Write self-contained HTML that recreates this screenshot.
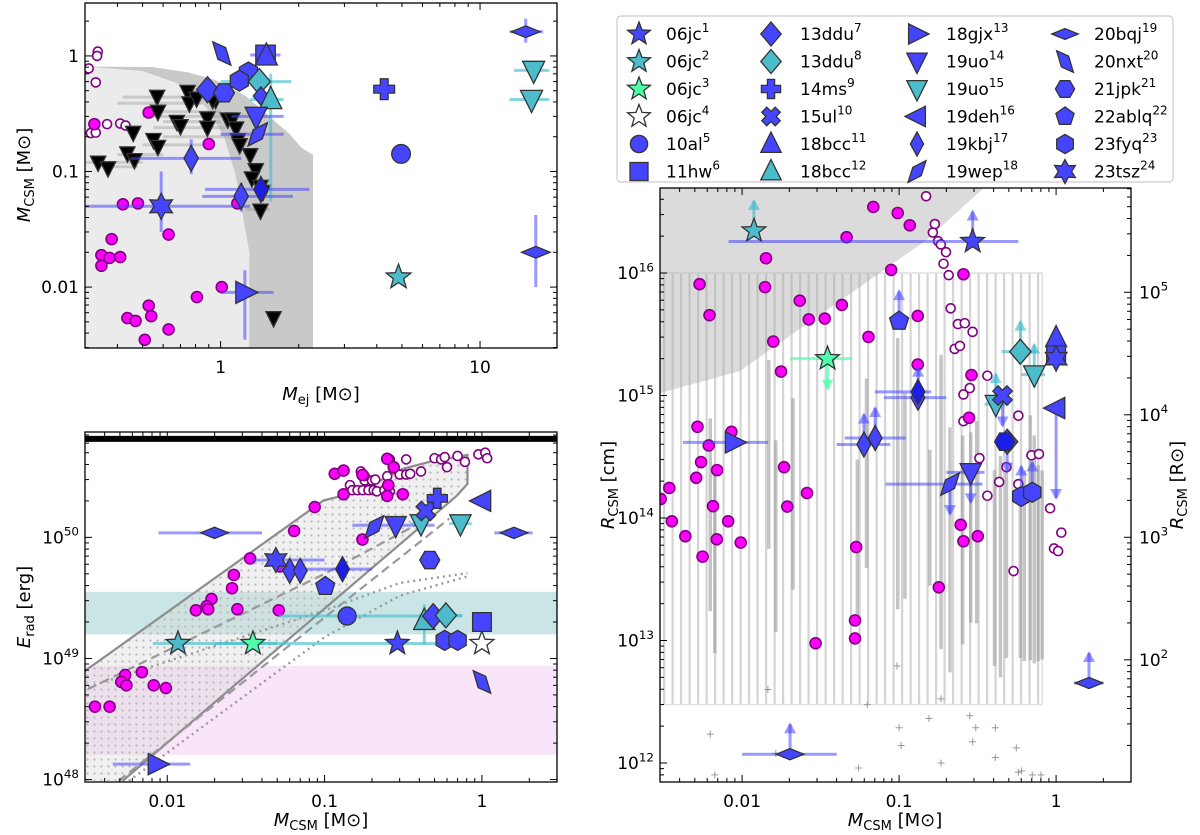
<!DOCTYPE html>
<html><head><meta charset="utf-8"><title>CSM parameter comparison</title>
<style>
html,body{margin:0;padding:0;background:#fff;}
svg{display:block;font-family:"DejaVu Sans","Liberation Sans",sans-serif;}
</style></head>
<body>
<svg id="chart" width="1200" height="835" viewBox="0 0 1200 835" xmlns="http://www.w3.org/2000/svg">
<defs>
<clipPath id="c1"><rect x="85" y="3" width="472" height="345"/></clipPath>
<clipPath id="c2"><rect x="85" y="432" width="472" height="350"/></clipPath>
<clipPath id="c3"><rect x="660" y="188" width="471" height="594"/></clipPath>
<pattern id="dots" width="7" height="7" patternUnits="userSpaceOnUse"><circle cx="3.5" cy="3.5" r="1.1" fill="#b8b8b8"/></pattern>
<pattern id="stripes" width="8.5" height="10" patternUnits="userSpaceOnUse"><rect x="0" y="0" width="2.2" height="10" fill="#d4d4d4"/></pattern>
</defs>
</svg>
<script>
// ---------- DATA: top-left (Mej vs Mcsm) ----------
const p1MagX=[0.528,0.326,0.90,0.42,0.48,0.38,0.347,0.373,0.41,0.347,0.63,1.16,1.01,0.81,0.528,0.437,0.47,0.54,0.63,0.51];
const p1MagY=[0.324,0.257,0.173,0.052,0.053,0.026,0.0189,0.0179,0.0182,0.0153,0.0285,0.053,0.010,0.0082,0.0069,0.0054,0.0051,0.0056,0.0043,0.0035];
const p1OpenX=[0.336,0.334,0.31,0.33,0.365,0.41,0.43,0.316,0.33];
const p1OpenY=[1.09,1.0,0.78,0.59,0.257,0.26,0.25,0.215,0.217];
const p1TriX=[0.569,0.573,0.46,0.551,0.573,0.437,0.465,0.337,0.368,0.678,0.70,0.746,0.758,0.808,0.889,0.889,0.956,1.066,1.11,1.147,1.165,1.184,1.30,1.366,1.32,1.424,1.424,1.60,1.456,0.932];
const p1TriY=[0.445,0.33,0.217,0.188,0.164,0.144,0.126,0.12,0.107,0.27,0.248,0.49,0.39,0.43,0.289,0.24,0.417,0.283,0.283,0.237,0.188,0.17,0.139,0.103,0.0875,0.074,0.046,0.0054,0.067,0.417];
const p1Named=[
 {n:'20nxt',t:'nxt',c:'B',x:1.01,y:1.05},
 {n:'11hw',t:'sq',c:'B',x:1.49,y:1.02,xe:[1.3,1.7]},
 {n:'18bcc',t:'tu',c:'B',x:1.5,y:1.0},
 {n:'23fyq',t:'hexv',c:'B',x:1.28,y:0.72},
 {n:'23fyq',t:'hexv',c:'B',x:1.18,y:0.61},
 {n:'13ddu',t:'D',c:'C',x:1.41,y:0.6,xe:[1.0,1.87]},
 {n:'13ddu',t:'D',c:'B',x:0.89,y:0.51},
 {n:'21jpk',t:'hexh',c:'B',x:1.03,y:0.48},
 {n:'13ddu',t:'D',c:'B',x:1.43,y:0.45,s:0.7},
 {n:'18bcc',t:'tu',c:'C',x:1.56,y:0.42,xe:[1.3,1.75],ye:[0.055,0.7]},
 {n:'19uo',t:'td',c:'B',x:1.37,y:0.3,xe:[1.1,1.75]},
 {n:'19wep',t:'wep',c:'B',x:1.39,y:0.21,xe:[1.0,1.75]},
 {n:'19kbj',t:'d',c:'B',x:0.77,y:0.13,xe:[0.45,1.2],ye:[0.095,0.19]},
 {n:'19kbj',t:'d',c:'B',x:1.2,y:0.061,xe:[0.85,1.9],ye:[0.045,0.08]},
 {n:'19kbj',t:'d',c:'D',x:1.43,y:0.07,xe:[0.87,2.2]},
 {n:'23tsz',t:'s6',c:'B',x:0.59,y:0.05,xe:[0.3,1.3],ye:[0.03,0.1]},
 {n:'18gjx',t:'tr',c:'B',x:1.24,y:0.009,xe:[1.0,1.6],ye:[0.0035,0.014]},
 {n:'14ms',t:'plus',c:'B',x:4.27,y:0.515},
 {n:'10al',t:'o',c:'B',x:4.96,y:0.142},
 {n:'06jc2',t:'s5',c:'C',x:4.85,y:0.0122},
 {n:'20bqj',t:'bqj',c:'B',x:15,y:1.62,xe:[13,17.5],ye:[1.3,2.1]},
 {n:'19uo',t:'td',c:'C',x:16.1,y:0.75,xe:[13.5,18.5]},
 {n:'19uo',t:'td',c:'C',x:15.8,y:0.42,xe:[13,18.5]},
 {n:'20bqj',t:'bqj',c:'B',x:16.4,y:0.02,ye:[0.01,0.042]}
];
// ---------- DATA: bottom-left (Mcsm vs Erad) ----------
const p2MagX=[0.116,0.132,0.174,0.132,0.25,0.275,0.0865,0.064,0.174,0.314,0.0336,0.0265,0.0258,0.0191,0.0178,0.0152,0.0182,0.0279,0.0511,0.052,0.0069,0.0054,0.0051,0.0055,0.0082,0.0098,0.00347,0.0043,0.254,0.25];
const p2MagY=[3.35e50,3.56e50,3.28e50,2.27e50,4.45e50,3.8e50,1.78e50,1.13e50,9.6e49,2.27e50,6.7e49,4.9e49,3.8e49,3.1e49,2.7e49,2.5e49,2.55e49,2.55e49,2.5e49,5.75e49,7.7e48,7.3e48,6.4e48,6.0e48,6.0e48,5.7e48,4.0e48,4.0e48,2.7e50,2.2e50];
const p2OpenX=[0.145,0.15,0.162,0.175,0.19,0.205,0.215,0.24,0.26,0.18,0.2,0.18,0.21,0.25,0.3,0.33,0.35,0.41,0.33,0.5,0.55,0.58,0.6,0.7,0.78,0.95,1.05,1.08,0.17,0.26];
const p2OpenY=[2.7e50,2.45e50,2.45e50,2.45e50,2.45e50,2.45e50,2.4e50,2.45e50,2.4e50,2.95e50,2.95e50,3.2e50,3.0e50,3.2e50,3.3e50,3.3e50,3.35e50,3.5e50,4.4e50,4.5e50,4.4e50,4.6e50,3.8e50,4.7e50,4.2e50,4.85e50,5.0e50,4.5e50,3.5e50,4.4e50];
const p2Named=[
 {n:'20bqj',t:'bqj',c:'B',x:0.020,y:1.09e50,xe:[0.0088,0.04]},
 {n:'20bqj',t:'bqj',c:'B',x:1.6,y:1.09e50,xe:[1.2,2.1]},
 {n:'18gjx',t:'tr',c:'B',x:0.0086,y:1.34e48,xe:[0.0045,0.014]},
 {n:'06jc2',t:'s5',c:'C',x:0.0117,y:1.33e49,xe:[0.0081,0.52]},
 {n:'06jc3',t:'s5',c:'M',x:0.035,y:1.33e49,xe:[0.02,0.05],ec:'C'},
 {n:'06jc1',t:'s5',c:'B',x:0.29,y:1.33e49},
 {n:'06jc4',t:'s5',c:'W',x:1.0,y:1.33e49},
 {n:'23fyq',t:'hexv',c:'B',x:0.58,y:1.41e49},
 {n:'23fyq',t:'hexv',c:'B',x:0.70,y:1.41e49},
 {n:'10al',t:'o',c:'B',x:0.139,y:2.24e49,xe:[0.0511,0.75],ec:'C'},
 {n:'18bcc',t:'tu',c:'C',x:0.43,y:2.05e49,ye:[1.3e49,2.8e49]},
 {n:'13ddu',t:'D',c:'B',x:0.49,y:2.24e49},
 {n:'13ddu',t:'D',c:'C',x:0.59,y:2.27e49,xe:[0.4,0.75]},
 {n:'11hw',t:'sq',c:'B',x:1.0,y:2.0e49},
 {n:'20nxt',t:'nxt',c:'B',x:1.0,y:6.4e48},
 {n:'22ablq',t:'pent',c:'B',x:0.101,y:3.94e49},
 {n:'19kbj',t:'d',c:'D',x:0.13,y:5.47e49,xe:[0.05,0.2]},
 {n:'19kbj',t:'d',c:'B',x:0.06,y:5.3e49},
 {n:'19kbj',t:'d',c:'B',x:0.07,y:5.3e49},
 {n:'23tsz',t:'s6',c:'B',x:0.049,y:6.5e49,xe:[0.034,0.1]},
 {n:'21jpk',t:'hexh',c:'B',x:0.466,y:6.5e49},
 {n:'19wep',t:'wep',c:'B',x:0.207,y:1.22e50},
 {n:'19uo',t:'td',c:'B',x:0.283,y:1.26e50,xe:[0.15,0.5]},
 {n:'19uo',t:'td',c:'C',x:0.41,y:1.3e50,xe:[0.35,0.45]},
 {n:'19uo',t:'td',c:'C',x:0.73,y:1.3e50,xe:[0.62,0.86]},
 {n:'15ul',t:'x',c:'B',x:0.44,y:1.65e50},
 {n:'14ms',t:'plus',c:'B',x:0.52,y:2.1e50},
 {n:'19deh',t:'tl',c:'B',x:1.0,y:2.0e50}
];
// model envelope (bottom-left)
const envX=[0.003,0.0985,0.128,0.217,0.314,0.478,0.81,0.81,0.69,0.0052,0.003];
const envY=[7.9e48,2.02e50,2.2e50,2.86e50,3.68e50,4.25e50,4.8e50,2.77e50,2.2e50,9.75e47,9.75e47];
// ---------- DATA: right (Mcsm vs Rcsm) ----------
const p3MagX=[0.0685,0.098,0.117,0.0463,0.0142,0.089,0.257,0.00536,0.014,0.0233,0.0432,0.0266,0.0336,0.1315,0.0062,0.0638,0.0158,0.0177,0.0052,0.00855,0.00613,0.00548,0.00693,0.0051,0.00344,0.00303,0.0185,0.0259,0.00653,0.0194,0.00357,0.00815,0.00435,0.0069,0.0098,0.0056,0.0533,0.247,0.257,0.317,0.179,0.0524,0.0524,0.0294,0.289,0.279,0.1315];
const p3MagY=[3.46e16,3.09e16,2.45e16,1.96e16,1.32e16,1.06e16,9.77e15,8.1e15,7.67e15,5.94e15,5.49e15,4.18e15,4.25e15,4.46e15,4.53e15,3.01e15,2.76e15,1.57e15,5.56e14,5.05e14,3.91e14,2.86e14,2.46e14,2.13e14,1.76e14,1.43e14,2.6e14,1.6e14,1.25e14,1.24e14,9.4e13,9.4e13,7.1e13,6.7e13,6.3e13,4.84e13,5.8e13,8.8e13,6.46e13,7.1e13,2.72e13,1.46e13,1.04e13,9.5e12,1.47e15,6.58e14,1.79e15];
const p3OpenX=[0.1486,0.169,0.164,0.177,0.1845,0.199,0.192,0.207,0.213,0.237,0.262,0.294,0.226,0.244,0.257,0.282,0.365,0.257,0.575,0.325,0.434,0.483,0.575,0.365,0.697,0.778,0.916,1.08,0.97,1.03,0.536];
const p3OpenY=[4.23e16,2.51e16,2.14e16,1.82e16,1.71e16,1.48e16,1.19e16,9.6e15,5.15e15,3.83e15,3.89e15,3.31e15,2.4e15,2.54e15,1.02e15,1.15e15,1.45e15,6.17e14,6.85e14,3.08e14,1.97e14,2.6e14,1.89e14,1.52e14,3.25e14,3.33e14,1.2e14,7.6e13,5.64e13,5.37e13,3.69e13];
const p3PlusX=[0.0146,0.00627,0.0067,0.0627,0.097,0.185,0.155,0.282,0.308,0.41,0.1,0.103,0.294,0.185,0.41,0.558,0.0552,0.603,0.705,0.801,0.0164,0.575];
const p3PlusY=[3.98e12,1.72e12,8.0e11,3.0e12,6.2e12,3.34e12,2.31e12,2.43e12,1.94e12,1.94e12,1.94e12,1.39e12,1.49e12,1.0e12,1.11e12,1.33e12,9.1e11,8.6e11,8.0e11,8.0e11,1.2e12,8.4e11];
const p3BarX=[0.00627,0.0067,0.0148,0.0164,0.0211,0.0542,0.062,0.098,0.109,0.157,0.185,0.211,0.254,0.286,0.312,0.405,0.442,0.483,0.592,0.627,0.685,0.726,0.769,0.815];
const p3BarLo=[1.74e13,7.9e12,5.6e13,1.17e13,2.6e13,1.6e13,3.9e13,1.8e13,2.2e13,2.8e13,8.5e12,5.5e12,9.3e12,1.4e13,1.38e13,6.2e12,5.0e12,7.2e12,7.2e12,6.8e12,6.9e12,6.5e12,6.8e12,7.0e12];
const p3BarHi=[6.5e14,2.75e14,1.95e15,4.3e14,9.5e14,3.0e14,1.38e15,2.95e15,1.05e15,3.6e14,2.15e15,5.5e14,4.7e14,5.0e14,6.2e14,2.45e14,3.2e14,2.7e14,2.1e14,2.45e14,6.9e14,4.7e14,2.7e14,2.45e14];
const p3Named=[
 {n:'06jc1',t:'s5',c:'B',x:0.294,y:1.81e16,xe:[0.0082,0.575],a:'up'},
 {n:'06jc2',t:'s5',c:'C',x:0.0119,y:2.21e16,a:'up'},
 {n:'06jc3',t:'s5',c:'M',x:0.035,y:2.0e15,xe:[0.0202,0.0499],a:'down',ac:'M'},
 {n:'22ablq',t:'pent',c:'B',x:0.1,y:4.05e15,a:'up'},
 {n:'19kbj',t:'d',c:'B',x:0.132,y:9.6e14,xe:[0.08,0.2],a:'up'},
 {n:'19kbj',t:'d',c:'D',x:0.132,y:1.07e15,xe:[0.07,0.16]},
 {n:'19kbj',t:'d',c:'B',x:0.0597,y:3.98e14,xe:[0.04,0.088],a:'up'},
 {n:'19kbj',t:'d',c:'B',x:0.0704,y:4.5e14,xe:[0.045,0.11],a:'up'},
 {n:'18gjx',t:'tr',c:'B',x:0.0089,y:4.14e14,xe:[0.0042,0.0146]},
 {n:'19wep',t:'wep',c:'B',x:0.211,y:1.89e14,xe:[0.082,0.34],a:'down'},
 {n:'19uo',t:'td',c:'B',x:0.286,y:2.36e14,xe:[0.2,0.35],a:'down'},
 {n:'19uo',t:'td',c:'C',x:0.413,y:8.5e14,xe:[0.35,0.5],a:'up'},
 {n:'15ul',t:'x',c:'B',x:0.456,y:1.0e15,a:'down'},
 {n:'13ddu',t:'D',c:'C',x:0.592,y:2.28e15,xe:[0.45,0.75],a:'up'},
 {n:'19uo',t:'td',c:'C',x:0.726,y:1.48e15,xe:[0.6,0.85],a:'up'},
 {n:'13ddu',t:'D',c:'B',x:0.488,y:4.2e14,a:'down'},
 {n:'21jpk',t:'hexh',c:'D',x:0.47,y:4.2e14},
 {n:'23fyq',t:'hexv',c:'B',x:0.6,y:1.5e14,a:'up'},
 {n:'23fyq',t:'hexv',c:'B',x:0.705,y:1.62e14,a:'up'},
 {n:'18bcc',t:'tu',c:'B',x:1.0,y:2.95e15},
 {n:'11hw',t:'sq',c:'B',x:1.0,y:2.13e15},
 {n:'23tsz',t:'s6',c:'B',x:1.0,y:2.0e15},
 {n:'19deh',t:'tl',c:'B',x:1.0,y:7.9e14,a:'down',al:90},
 {n:'20bqj',t:'bqj',c:'B',x:1.62,y:4.5e12,a:'up',xe:[1.3,2.0]},
 {n:'20bqj',t:'bqj',c:'B',x:0.0202,y:1.18e12,xe:[0.01,0.04],a:'up'}
];
const legendNames=['06jc','06jc','06jc','06jc','10al','11hw','13ddu','13ddu','14ms','15ul','18bcc','18bcc','18gjx','19uo','19uo','19deh','19kbj','19wep','20bqj','20nxt','21jpk','22ablq','23fyq','23tsz'];
const legendShapes=['s5','s5','s5','s5','o','sq','D','D','plus','x','tu','tu','tr','td','td','tl','d','wep','bqj','nxt','hexh','pent','hexv','s6'];
const legendColors=['B','C','M','W','B','B','B','C','B','B','B','C','B','B','C','B','B','B','B','B','B','B','B','B'];

// ---------- RENDER ----------
const NS='http://www.w3.org/2000/svg';
const svg=document.getElementById('chart');
const L=Math.log10;
const COL={B:'#4545ff',C:'#4cbccb',M:'#4dffa8',W:'#ffffff',D:'#1d1de8'};
const ECOL={B:'rgba(70,70,255,0.55)',C:'rgba(70,190,205,0.65)',M:'rgba(80,255,170,0.7)',D:'rgba(70,70,255,0.55)',W:'rgba(70,70,255,0.55)'};
function mk(tag,attrs,parent){const e=document.createElementNS(NS,tag);for(const k in attrs)e.setAttribute(k,attrs[k]);(parent||svg).appendChild(e);return e;}
function P(x0,x1,y0,y1,xa,xb,ya,yb){return {x0,x1,y0,y1,xa:L(xa),xb:L(xb),ya:L(ya),yb:L(yb)};}
const P1=P(85,557,3,348,0.30,19.8,Math.pow(10,-2.527),Math.pow(10,0.458));
const P2=P(85,557,432,782,0.003,3.0,Math.pow(10,47.98),Math.pow(10,50.87));
const P3=P(660,1131,188,782,0.003,3.0,Math.pow(10,11.845),Math.pow(10,16.694));
function sx(p,v){return p.x0+(L(v)-p.xa)/(p.xb-p.xa)*(p.x1-p.x0);}
function sy(p,v){return p.y1-(L(v)-p.ya)/(p.yb-p.ya)*(p.y1-p.y0);}

function shapePts(t,r){
  const pts=[];
  const star=(n,ri)=>{for(let i=0;i<2*n;i++){const a=-Math.PI/2+i*Math.PI/n;const rr=i%2?r*ri:r;pts.push([rr*Math.cos(a),rr*Math.sin(a)]);}};
  const reg=(n,off)=>{for(let i=0;i<n;i++){const a=off+i*2*Math.PI/n;pts.push([r*0.8*Math.cos(a),r*0.8*Math.sin(a)]);}};
  if(t==='s5')star(5,0.42);
  else if(t==='s6')star(6,0.55);
  else if(t==='sq'){const s=r*0.75;pts.push([-s,-s],[s,-s],[s,s],[-s,s]);}
  else if(t==='D'){pts.push([0,-r],[r*0.85,0],[0,r],[-r*0.85,0]);}
  else if(t==='d'){pts.push([0,-r],[r*0.55,0],[0,r],[-r*0.55,0]);}
  else if(t==='bqj'){pts.push([0,-r*0.45],[r*1.1,0],[0,r*0.45],[-r*1.1,0]);}
  else if(t==='tu'){pts.push([0,-r],[r*0.85,r*0.7],[-r*0.85,r*0.7]);}
  else if(t==='td'){pts.push([0,r],[r*0.85,-r*0.7],[-r*0.85,-r*0.7]);}
  else if(t==='tl'){pts.push([-r,0],[r*0.7,-r*0.85],[r*0.7,r*0.85]);}
  else if(t==='tr'){pts.push([r,0],[-r*0.7,-r*0.85],[-r*0.7,r*0.85]);}
  else if(t==='hexh')reg(6,0);
  else if(t==='hexv')reg(6,Math.PI/2);
  else if(t==='pent')reg(5,-Math.PI/2);
  else if(t==='nxt'){pts.push([-r*0.7,-r*0.9],[r*0.3,-r*0.45],[r*0.7,r*0.9],[-r*0.3,r*0.45]);}
  else if(t==='wep'){pts.push([-r*0.75,r*0.9],[-r*0.35,-r*0.35],[r*0.75,-r*0.9],[r*0.35,r*0.35]);}
  else if(t==='plus'){const a=r*0.3,b=r*0.8;pts.push([-a,-b],[a,-b],[a,-a],[b,-a],[b,a],[a,a],[a,b],[-a,b],[-a,a],[-b,a],[-b,-a],[-a,-a]);}
  else if(t==='x'){const a=r*0.3,b=r*0.8;const base=[[-a,-b],[a,-b],[a,-a],[b,-a],[b,a],[a,a],[a,b],[-a,b],[-a,a],[-b,a],[-b,-a],[-a,-a]];const c=Math.SQRT1_2;base.forEach(q=>pts.push([(q[0]-q[1])*c,(q[0]+q[1])*c]));}
  return pts;
}
function drawMarker(g,t,cx,cy,r,fill,name){
  let e;
  if(t==='o'){e=mk('circle',{cx:cx,cy:cy,r:r*0.72,fill:fill,stroke:'#333','stroke-width':1.3},g);}
  else{e=mk('polygon',{points:shapePts(t,r).map(q=>(cx+q[0]).toFixed(1)+','+(cy+q[1]).toFixed(1)).join(' '),fill:fill,stroke:'#333','stroke-width':1.3,'stroke-linejoin':'miter'},g);}
  
  
  return e;
}
function arrow(g,x,y,dir,col,len){
  const y2=dir==='up'?y-len:y+len;
  const ln=mk('line',{x1:x,y1:y,x2:x,y2:y2,stroke:col,'stroke-width':3},g);
  
  
  const d=dir==='up'?-1:1;
  const hd=mk('polygon',{points:`${x-6},${y2-d*9} ${x+6},${y2-d*9} ${x},${y2+d*2}`,fill:col},g);
  
  
}
function panelGroup(p,clip,name){
  const g=mk('g',{'clip-path':'url(#'+clip+')'});
  
  
  return g;
}
function points(g,p,xs,ys,fill,stroke,r,name){
  for(let i=0;i<xs.length;i++){
    const c=mk('circle',{cx:sx(p,xs[i]),cy:sy(p,ys[i]),r:r,fill:fill,stroke:stroke,'stroke-width':1.6},g);
    
    
  }
}
function named(g,p,list,r){
  list.forEach(d=>{
    const cx=sx(p,d.x),cy=sy(p,d.y);const ec=ECOL[d.ec||d.c];
    if(d.xe){const l=mk('line',{x1:sx(p,d.xe[0]),x2:sx(p,d.xe[1]),y1:cy,y2:cy,stroke:ec,'stroke-width':3},g);
      
      }
    if(d.ye){const l=mk('line',{x1:cx,x2:cx,y1:sy(p,d.ye[0]),y2:sy(p,d.ye[1]),stroke:ec,'stroke-width':3},g);
      
      }
    if(d.a){arrow(g,cx,cy,d.a,ECOL[d.ac||d.c],d.al||30);}
  });
  list.forEach(d=>{drawMarker(g,d.t,sx(p,d.x),sy(p,d.y),r*(d.s||1),COL[d.c],'sn-'+d.n);});
}
function sup(parent,x,y,base,exp,anchor,fs,name){
  const t=mk('text',{x:x,y:y,'text-anchor':anchor,'font-size':fs,fill:'#000'},parent);
  
  
  t.appendChild(document.createTextNode(base));
  const s=mk('tspan',{dy:-fs*0.45,'font-size':fs*0.7},t);
  s.textContent=exp;
  return t;
}
function ticks(p,axis,side,fmt,conv){
  // axis: 'x' or 'y'; side: position; conv: value transform for alternate axes
  const a=axis==='x'?p.xa:p.ya, b=axis==='x'?p.xb:p.yb;
  const off=conv?L(conv):0;
  for(let d=Math.floor(a-off)-1;d<=Math.ceil(b-off);d++){
    for(let m=1;m<10;m++){
      const lv=d+L(m)+off; if(lv<a-1e-6||lv>b+1e-6)continue;
      const major=m===1, len=major?7:4;
      let pos;
      if(axis==='x'){pos=p.x0+(lv-p.xa)/(p.xb-p.xa)*(p.x1-p.x0);
        const y=side==='b'?p.y1:p.y0, dir=side==='b'?-1:1;
        const l=mk('line',{x1:pos,x2:pos,y1:y,y2:y+dir*len,stroke:'#000','stroke-width':1});
        
        
        if(major&&fmt&&side==='b')fmt(pos,p.y1+25,d);
      }else{pos=p.y1-(lv-p.ya)/(p.yb-p.ya)*(p.y1-p.y0);
        const x=side==='l'?p.x0:p.x1, dir=side==='l'?1:-1;
        const l=mk('line',{x1:x,x2:x+dir*len,y1:pos,y2:pos,stroke:'#000','stroke-width':1});
        
        
        if(major&&fmt)fmt(side==='l'?p.x0-6:p.x1+6,pos+6,d);
      }
    }
  }
}
function frame(p,name){
  const r=mk('rect',{x:p.x0,y:p.y0,width:p.x1-p.x0,height:p.y1-p.y0,fill:'none',stroke:'#000','stroke-width':1.3});
  
  
}
function plainLbl(x,y,txt,anchor,name){
  const t=mk('text',{x:x,y:y,'text-anchor':anchor,'font-size':17,fill:'#000'});
  
  
  t.textContent=txt;
}
function polyPath(g,p,xs,ys,attrs,name){
  const d=xs.map((x,i)=>(i?'L':'M')+sx(p,x).toFixed(1)+','+sy(p,ys[i]).toFixed(1)).join(' ');
  const e=mk('path',Object.assign({d:d},attrs),g);
  
  
  return e;
}

// ===== Panel 1 =====
const g1=panelGroup(P1,'c1','panel-mej-mcsm');
polyPath(g1,P1,[0.3,0.55,0.75,0.95,1.25,1.85,2.05,2.27,2.27,0.3],[0.81,0.8,0.72,0.62,0.45,0.21,0.16,0.14,0.001,0.001],{fill:'#c9c9c9'},'excluded-region-dark');
polyPath(g1,P1,[0.3,0.5,0.68,0.88,1.03,1.14,1.2,1.29,1.29,0.3],[0.81,0.74,0.58,0.36,0.2,0.095,0.05,0.02,0.001,0.001],{fill:'#ebebeb'},'excluded-region-light');
const p1GrayY=[0.44,0.39,0.33,0.3,0.27,0.24,0.2,0.17,0.14,0.12,0.11,0.047];
const p1GrayLo=[0.42,0.4,0.55,0.5,0.6,0.55,0.6,0.5,0.4,0.3,0.35,1.25];
const p1GrayHi=[0.75,0.85,1.0,1.1,1.0,1.05,1.2,0.85,0.6,0.5,0.48,1.55];
p1GrayY.forEach((y,i)=>{const l=mk('line',{x1:sx(P1,p1GrayLo[i]),x2:sx(P1,p1GrayHi[i]),y1:sy(P1,y),y2:sy(P1,y),stroke:'rgba(160,160,160,0.45)','stroke-width':3},g1);
  
  });
points(g1,P1,p1OpenX,p1OpenY,'#fff','#800080',4.5,'literature-open-circle');
points(g1,P1,p1MagX,p1MagY,'#ff00ff','#800080',5.5,'literature-filled-circle');
p1TriX.forEach((x,i)=>drawMarker(g1,'td',sx(P1,x),sy(P1,p1TriY[i]),9,'#000','upper-limit-triangle'));
named(g1,P1,p1Named,13);
frame(P1,'panel1-frame');
ticks(P1,'x','b',(x,y,d)=>plainLbl(x,y,String(Math.pow(10,d)),'middle','x-tick-label'));
ticks(P1,'x','t');
ticks(P1,'y','l',(x,y,d)=>plainLbl(x,y,d===0?'1':(d===-1?'0.1':'0.01'),'end','y-tick-label'));
ticks(P1,'y','r');

// ===== Panel 2 =====
const g2=panelGroup(P2,'c2','panel-mcsm-erad');
const tb=mk('rect',{x:P2.x0,width:P2.x1-P2.x0,y:sy(P2,3.55e49),height:sy(P2,1.58e49)-sy(P2,3.55e49),fill:'rgba(95,175,175,0.33)'},g2);


const pb=mk('rect',{x:P2.x0,width:P2.x1-P2.x0,y:sy(P2,8.7e48),height:sy(P2,1.6e48)-sy(P2,8.7e48),fill:'rgba(235,170,235,0.3)'},g2);


polyPath(g2,P2,envX,envY,{fill:'rgba(215,215,215,0.38)',stroke:'none'},'model-envelope');
polyPath(g2,P2,envX,envY,{fill:'url(#dots)',stroke:'none'},'model-envelope-dots');
polyPath(g2,P2,envX.slice(0,9),envY.slice(0,9),{fill:'none',stroke:'#8c8c8c','stroke-width':2.2},'model-upper-line');
polyPath(g2,P2,[0.0052,0.69],[9.75e47,2.2e50],{fill:'none',stroke:'#8c8c8c','stroke-width':2.2},'model-lower-line');
polyPath(g2,P2,[0.00315,0.1,0.478],[5.6e48,5.0e49,1.48e50],{fill:'none',stroke:'#999','stroke-width':2.2,'stroke-dasharray':'9,5'},'model-dashed-upper');
polyPath(g2,P2,[0.0049,0.62],[9.75e47,1.43e50],{fill:'none',stroke:'#999','stroke-width':2.2,'stroke-dasharray':'9,5'},'model-dashed-lower');
polyPath(g2,P2,[0.00315,0.1,0.3,0.81],[5.8e48,2.5e49,4.2e49,5.07e49],{fill:'none',stroke:'#999','stroke-width':2.4,'stroke-dasharray':'2,4'},'model-dotted-upper');
polyPath(g2,P2,[0.0057,0.1,0.3,0.81],[9.75e47,1.5e49,3.3e49,4.76e49],{fill:'none',stroke:'#999','stroke-width':2.4,'stroke-dasharray':'2,4'},'model-dotted-lower');
const thick=mk('line',{x1:P2.x0,x2:P2.x1,y1:sy(P2,6.5e50),y2:sy(P2,6.5e50),stroke:'#000','stroke-width':6},g2);


points(g2,P2,p2OpenX,p2OpenY,'#fff','#800080',4.5,'literature-open-circle');
points(g2,P2,p2MagX,p2MagY,'#ff00ff','#800080',5.5,'literature-filled-circle');
named(g2,P2,p2Named,12.5);
frame(P2,'panel2-frame');
const xlbl=(x,y,d)=>plainLbl(x,y,d===0?'1':(d===-1?'0.1':'0.01'),'middle','x-tick-label');
ticks(P2,'x','b',xlbl);
ticks(P2,'x','t');
ticks(P2,'y','l',(x,y,d)=>sup(svg,x,y,'10',String(d),'end',17,'y-tick-label'));
ticks(P2,'y','r');

// ===== Panel 3 =====
const g3=panelGroup(P3,'c3','panel-mcsm-rcsm');
const hr=mk('rect',{x:sx(P3,0.003),y:sy(P3,1e16),width:sx(P3,0.815)-sx(P3,0.003),height:sy(P3,3e12)-sy(P3,1e16),fill:'url(#stripes)',stroke:'#e0e0e0','stroke-width':1.5},g3);


polyPath(g3,P3,[0.003,0.35,0.15,0.056,0.0174,0.0097,0.003],[Math.pow(10,16.7),Math.pow(10,16.7),Math.pow(10,16.27),Math.pow(10,15.885),Math.pow(10,15.43),Math.pow(10,15.2),Math.pow(10,15.02)],{fill:'rgba(170,170,170,0.42)'},'excluded-region');
p3BarX.forEach((x,i)=>{const l=mk('line',{x1:sx(P3,x),x2:sx(P3,x),y1:sy(P3,p3BarLo[i]),y2:sy(P3,p3BarHi[i]),stroke:'rgba(150,150,150,0.55)','stroke-width':3.5},g3);
  
  });
p3PlusX.forEach((x,i)=>{const cx=sx(P3,x),cy=sy(P3,p3PlusY[i]);
  const pl=mk('path',{d:`M${cx-3.5},${cy}H${cx+3.5}M${cx},${cy-3.5}V${cy+3.5}`,stroke:'#999','stroke-width':1},g3);
  
  });
points(g3,P3,p3OpenX,p3OpenY,'#fff','#800080',4.5,'literature-open-circle');
points(g3,P3,p3MagX,p3MagY,'#ff00ff','#800080',5.5,'literature-filled-circle');
named(g3,P3,p3Named,12.5);
frame(P3,'panel3-frame');
ticks(P3,'x','b',xlbl);
ticks(P3,'x','t');
ticks(P3,'y','l',(x,y,d)=>sup(svg,x,y,'10',String(d),'end',17,'y-tick-label'));
ticks(P3,'y','r',(x,y,d)=>sup(svg,x+2,y,'10',String(d),'start',17,'y2-tick-label'),6.96e10);

// ===== axis titles =====
function title(x,y,rot,main,sub,rest,name){
  const t=mk('text',{x:x,y:y,'text-anchor':'middle','font-size':18,fill:'#000',transform:rot?`rotate(-90 ${x} ${y})`:''});
  
  
  const a=mk('tspan',{'font-style':'italic'},t);a.textContent=main;
  const b=mk('tspan',{dy:4,'font-size':13},t);b.textContent=sub;
  const c=mk('tspan',{dy:-4},t);c.textContent=rest;
}
title(321,400,false,'M','ej',' [M\u2299]','x-axis-title-mej');
title(30,175,true,'M','CSM',' [M\u2299]','y-axis-title-mcsm');
title(321,826,false,'M','CSM',' [M\u2299]','x-axis-title-mcsm');
title(30,607,true,'E','rad',' [erg]','y-axis-title-erad');
title(895,826,false,'M','CSM',' [M\u2299]','x-axis-title-mcsm-right');
title(614,485,true,'R','CSM',' [cm]','y-axis-title-rcsm-cm');
title(1183,485,true,'R','CSM',' [R\u2299]','y2-axis-title-rcsm-rsun');

// ===== legend =====
const lg=mk('g',{});


const lb=mk('rect',{x:617,y:16,width:556,height:166,rx:4,fill:'#fff',stroke:'#ccc','stroke-width':1.2},lg);


const colX=[639,771,917,1065], txtX=[666,800,946,1094];
legendNames.forEach((nm,i)=>{
  const col=Math.floor(i/6), row=i%6, y=34+row*27.5;
  drawMarker(lg,legendShapes[i],colX[col],y,12,COL[legendColors[i]],'legend-marker-'+nm);
  const t=mk('text',{x:txtX[col],y:y+6,'font-size':17,fill:'#000'},lg);
  
  
  t.appendChild(document.createTextNode(nm));
  const s=mk('tspan',{dy:-8,'font-size':12},t);s.textContent=String(i+1);
});
</script>
</body></html>
